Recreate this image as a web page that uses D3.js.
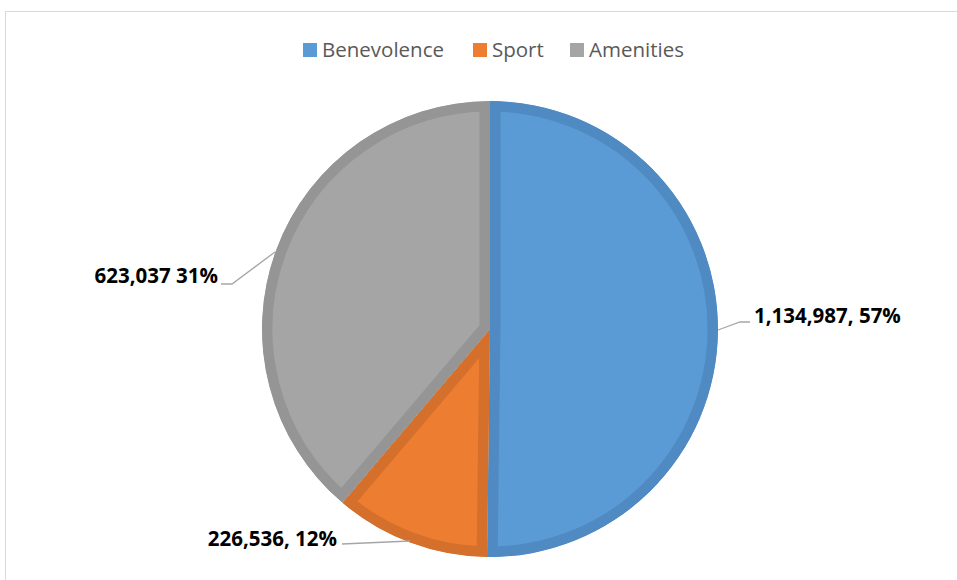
<!DOCTYPE html>
<html>
<head>
<meta charset="utf-8">
<script src="https://cdn.jsdelivr.net/npm/d3@7"></script>
<style>
  body { margin: 0; background: #fff; }
  svg { display: block; }
</style>
</head>
<body>
<svg id="chart" width="957" height="580"></svg>
<script>
// chart data
var categories = ["Benevolence", "Sport", "Amenities"];
var labelValues = [1134987, 226536, 623037];
var labelPercents = ["57%", "12%", "31%"];
// share of the circle each slice actually covers in the picture
var sliceShares = [50.2, 11.0, 38.8];
var fillColors = ["#5B9BD5", "#ED7D31", "#A5A5A5"];
var edgeColors = ["#4F8AC2", "#D4702B", "#959595"];

var svg = d3.select("#chart");
var cx = 490, cy = 329, radius = 228;

// frame
svg.append("rect")
  .attr("x", 5.5).attr("y", 11.5)
  .attr("width", 1000).attr("height", 1000)
  .attr("fill", "none")
  .attr("stroke", "#d9d9d9")
  .attr("stroke-width", 1);

var slices = categories.map(function(c, i) {
  return {name: c, share: sliceShares[i], value: labelValues[i], pct: labelPercents[i], i: i};
});

var pie = d3.pie().sort(null).value(function(d) { return d.share; });
var arc = d3.arc().innerRadius(0).outerRadius(radius);
var arcs = pie(slices);

var g = svg.append("g").attr("transform", "translate(" + cx + "," + cy + ")");
var defs = svg.append("defs");

defs.selectAll("clipPath")
  .data(arcs)
  .enter()
  .append("clipPath")
  .attr("id", function(d) { return "clip" + d.data.i; })
  .append("path")
  .attr("d", arc);

g.selectAll("path.slice")
  .data(arcs)
  .enter()
  .append("path")
  .attr("class", "slice")
  .attr("d", arc)
  .attr("clip-path", function(d) { return "url(#clip" + d.data.i + ")"; })
  .attr("fill", function(d) { return fillColors[d.data.i]; })
  .attr("stroke", function(d) { return edgeColors[d.data.i]; })
  .attr("stroke-width", 21)
  .attr("stroke-linejoin", "miter");

// data labels with leader lines
var fmt = d3.format(",");
var labelText = [
  function(d) { return fmt(d.value) + ", " + d.pct; },
  function(d) { return fmt(d.value) + ", " + d.pct; },
  function(d) { return fmt(d.value) + " " + d.pct; }
];
// label anchor (absolute) and leader points, per slice
var labelPos = [
  {x: 754, y: 316, anchor: "start", line: [[718, 330], [740, 322], [750, 322]]},
  {x: 337, y: 539, anchor: "end", line: [[410, 541], [342, 544]]},
  {x: 218, y: 276, anchor: "end", line: [[275, 252], [232, 284], [221, 284]]}
];

svg.selectAll("path.leader")
  .data(arcs)
  .enter()
  .append("path")
  .attr("class", "leader")
  .attr("d", function(d) { return d3.line()(labelPos[d.data.i].line); })
  .attr("fill", "none")
  .attr("stroke", "#a6a6a6")
  .attr("stroke-width", 1.3);

svg.selectAll("text.lbl")
  .data(arcs)
  .enter()
  .append("text")
  .attr("class", "lbl")
  .attr("x", function(d) { return labelPos[d.data.i].x; })
  .attr("y", function(d) { return labelPos[d.data.i].y; })
  .attr("dy", "0.35em")
  .attr("text-anchor", function(d) { return labelPos[d.data.i].anchor; })
  .attr("font-family", "'Open Sans', 'Noto Sans', sans-serif")
  .attr("font-weight", "bold")
  .attr("font-size", 20.5)
  .attr("fill", "#000")
  .text(function(d) { return labelText[d.data.i](d.data); });

// legend
var legendX = [303, 473, 570];
var legend = svg.append("g");
var items = legend.selectAll("g")
  .data(categories)
  .enter()
  .append("g")
  .attr("transform", function(d, i) { return "translate(" + legendX[i] + ",43)"; });
items.append("rect")
  .attr("width", 14).attr("height", 14)
  .attr("fill", function(d, i) { return fillColors[i]; });
items.append("text")
  .attr("x", 19).attr("y", 7)
  .attr("dy", "0.35em")
  .attr("font-family", "'Open Sans', 'Noto Sans', sans-serif")
  .attr("font-size", 20.5)
  .attr("fill", "#595959")
  .text(function(d) { return d; });
</script>
</body>
</html>
